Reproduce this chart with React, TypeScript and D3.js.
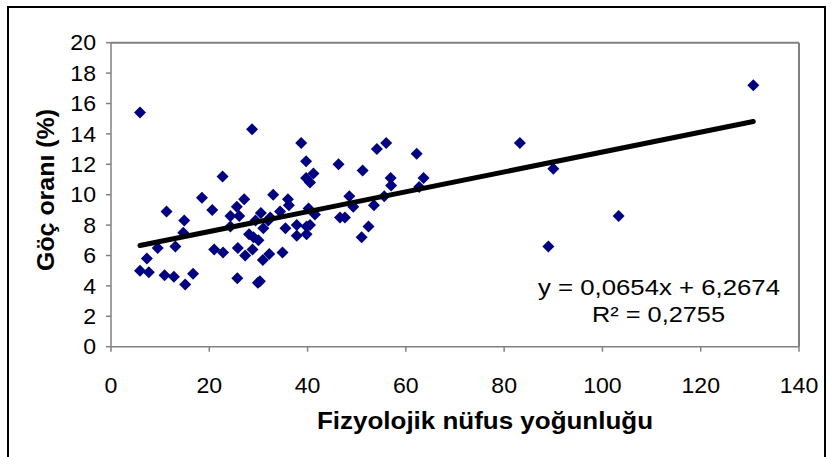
import React from "react";
import * as d3 from "d3";

const xValues: number[] = [
  5.9, 28.7, 38.7, 22.7, 18.5, 20.6, 11.3, 14.9, 14.7, 13.1, 9.5, 7.3, 5.9, 7.7, 10.9, 12.8,
  15.1, 16.7, 21.0, 22.8, 25.8, 27.3, 28.8, 25.7, 29.9, 30.3, 30.9, 32.2, 34.9, 24.3, 25.6,
  27.1, 26.1, 24.3, 28.1, 29.0, 30.0, 31.0, 30.5, 29.4, 32.0, 33.0, 36.0, 36.2, 34.4, 35.5,
  37.8, 37.8, 32.4, 39.7, 41.2, 39.7, 40.5, 46.3, 40.2, 41.5, 39.8, 40.5, 39.8, 54.1, 56.0,
  62.2, 51.2, 56.9, 57.0, 63.6, 62.7, 48.5, 49.3, 53.5, 55.6, 46.6, 47.6, 52.4, 51.0, 130.7,
  83.2, 90.0, 103.3, 89.0,
];
const yValues: number[] = [
  15.4, 14.3, 13.4, 11.2, 9.8, 9.0, 8.9, 8.3, 7.5, 6.6, 6.5, 5.8, 5.0, 4.9, 4.7, 4.6, 4.1,
  4.8, 6.4, 6.2, 6.5, 6.0, 6.4, 4.5, 4.2, 4.3, 5.7, 6.1, 6.2, 8.6, 9.2, 9.7, 8.6, 7.9, 7.4,
  7.2, 7.0, 7.8, 8.8, 8.3, 8.3, 10.0, 9.7, 9.3, 8.9, 7.8, 8.0, 7.3, 8.5, 12.2, 11.4, 11.1,
  10.8, 12.0, 9.1, 8.7, 7.9, 8.0, 7.4, 13.0, 13.4, 12.7, 11.6, 11.1, 10.6, 11.1, 10.5, 9.9,
  9.2, 9.3, 9.9, 8.5, 8.5, 7.9, 7.2, 17.2, 13.4, 11.7, 8.6, 6.6,
];
const xTicks: number[] = [0, 20, 40, 60, 80, 100, 120, 140];
const yTicks: number[] = [0, 2, 4, 6, 8, 10, 12, 14, 16, 18, 20];
const slope = 0.0654;
const intercept = 6.2674;
const equationText = "y = 0,0654x + 6,2674";
const r2Text = "R² = 0,2755";
const xTitle = "Fizyolojik nüfus yoğunluğu";
const yTitle = "Göç oranı (%)";

export default function App() {
  const W = 831;
  const H = 457;
  const left = 111;
  const right = 799;
  const top = 42.7;
  const bottom = 346.7;
  const x = d3.scaleLinear().domain([0, 140]).range([left, right]);
  const y = d3.scaleLinear().domain([0, 20]).range([bottom, top]);
  const font = "'Liberation Sans', Arial, sans-serif";
  const xMin = d3.min(xValues) as number;
  const xMax = d3.max(xValues) as number;
  const line = d3
    .line<number>()
    .x((d) => x(d))
    .y((d) => y(slope * d + intercept));
  const diamond = (cx: number, cy: number, r: number) =>
    `M${cx},${cy - r}L${cx + r},${cy}L${cx},${cy + r}L${cx - r},${cy}Z`;
  const sx = 1.05;
  const tickFs = 22;

  return (
    <svg
      width={W}
      height={H}
      style={{ position: "absolute", left: 0, top: 0, background: "#fff" }}
    >
      <rect x={0} y={0} width={W} height={H} fill="#fff" />
      <rect x={8} y={7} width={817} height={460} fill="#fff" stroke="#000" strokeWidth={2} />
      {/* plot frame */}
      <line x1={left} y1={top} x2={right} y2={top} stroke="#808080" strokeWidth={2} />
      <line x1={right} y1={top} x2={right} y2={bottom} stroke="#808080" strokeWidth={2} />
      <line x1={left} y1={top} x2={left} y2={bottom} stroke="#808080" strokeWidth={1.5} />
      <line x1={left} y1={bottom} x2={right} y2={bottom} stroke="#808080" strokeWidth={1.5} />
      {yTicks.map((t) => (
        <g key={"y" + t}>
          <line x1={left - 5} x2={left} y1={y(t)} y2={y(t)} stroke="#808080" strokeWidth={1.5} />
          <text
            transform={`translate(96,${y(t)}) scale(${sx},1)`}
            dy="0.35em"
            textAnchor="end"
            fontFamily={font}
            fontSize={tickFs}
            fill="#000"
          >
            {t}
          </text>
        </g>
      ))}
      {xTicks.map((t) => (
        <g key={"x" + t}>
          <line x1={x(t)} x2={x(t)} y1={bottom} y2={bottom + 5} stroke="#808080" strokeWidth={1.5} />
          <text
            transform={`translate(${x(t)},393) scale(${sx},1)`}
            textAnchor="middle"
            fontFamily={font}
            fontSize={tickFs}
            fill="#000"
          >
            {t}
          </text>
        </g>
      ))}
      {xValues.map((xv, i) => (
        <path key={"p" + i} d={diamond(x(xv), y(yValues[i]), 6)} fill="#000080" />
      ))}
      <path
        d={line([xMin, xMax]) || ""}
        stroke="#000"
        strokeWidth={5}
        strokeLinecap="round"
        fill="none"
      />
      <text
        x={538}
        y={295}
        textLength={242}
        lengthAdjust="spacingAndGlyphs"
        fontFamily={font}
        fontSize={22}
        fill="#000"
      >
        {equationText}
      </text>
      <text
        x={592}
        y={322}
        textLength={133}
        lengthAdjust="spacingAndGlyphs"
        fontFamily={font}
        fontSize={22}
        fill="#000"
      >
        {r2Text}
      </text>
      <text
        x={317}
        y={429}
        textLength={336}
        lengthAdjust="spacingAndGlyphs"
        fontFamily={font}
        fontSize={23}
        fontWeight="bold"
        fill="#000"
      >
        {xTitle}
      </text>
      <text
        transform={`translate(54,271) rotate(-90)`}
        textLength={162}
        lengthAdjust="spacingAndGlyphs"
        fontFamily={font}
        fontSize={23}
        fontWeight="bold"
        fill="#000"
      >
        {yTitle}
      </text>
    </svg>
  );
}
